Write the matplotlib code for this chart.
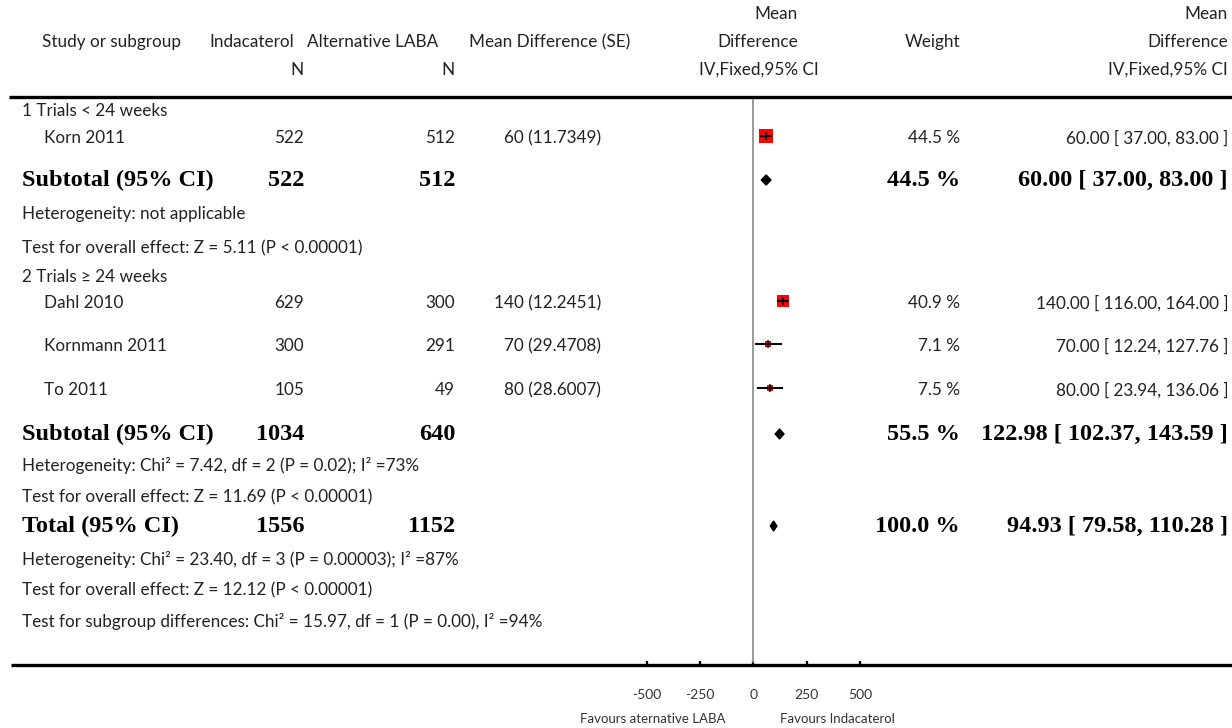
import matplotlib.pyplot as plt
from matplotlib.patches import Polygon

plt.rcParams['font.family'] = ['Lato', 'DejaVu Sans']

# ---- data ----
studies = ['Korn 2011', 'Dahl 2010', 'Kornmann 2011', 'To 2011']
n_ind = [522, 629, 300, 105]
n_alt = [512, 300, 291, 49]
md = [60, 140, 70, 80]
se = [11.7349, 12.2451, 29.4708, 28.6007]
weight = [44.5, 40.9, 7.1, 7.5]
ci_lo = [37.00, 116.00, 12.24, 23.94]
ci_hi = [83.00, 164.00, 127.76, 136.06]

groups = ['1 Trials < 24 weeks', '2 Trials \u2265 24 weeks']
sub_n_ind = [522, 1034]
sub_n_alt = [512, 640]
sub_weight = [44.5, 55.5]
sub_md = [60.00, 122.98]
sub_lo = [37.00, 102.37]
sub_hi = [83.00, 143.59]
sub_het = ['Heterogeneity: not applicable',
           'Heterogeneity: Chi\u00b2 = 7.42, df = 2 (P = 0.02); I\u00b2 =73%']
sub_test = ['Test for overall effect: Z = 5.11 (P < 0.00001)',
            'Test for overall effect: Z = 11.69 (P < 0.00001)']

tot_n_ind, tot_n_alt = 1556, 1152
tot_weight = 100.0
tot_md, tot_lo, tot_hi = 94.93, 79.58, 110.28
tot_lines = ['Heterogeneity: Chi\u00b2 = 23.40, df = 3 (P = 0.00003); I\u00b2 =87%',
             'Test for overall effect: Z = 12.12 (P < 0.00001)',
             'Test for subgroup differences: Chi\u00b2 = 15.97, df = 1 (P = 0.00), I\u00b2 =94%']

ticks = [-500, -250, 0, 250, 500]

# ---- layout (pixels) ----
W, H = 1232, 728
y_group = [111, 277]
y_study = [138, 303, 346, 390]
y_sub = [180, 434]
y_het = [214, 466]
y_test = [248, 497]
y_tot = 526
y_tot_lines = [559, 590, 622]
x_name, x_study = 22, 44
x_nind, x_nalt, x_se = 304, 455, 601
x_w, x_ci = 960, 1228

TXT = '#222222'
NORM = dict(fontsize=12.3, color=TXT, va='center')
BOLD = dict(fontsize=17.5, color='black', va='center', family='Liberation Serif', weight='bold')

fig = plt.figure(figsize=(W / 100, H / 100), dpi=100)
bg = fig.add_axes([0, 0, 1, 1])
bg.set_xlim(0, W)
bg.set_ylim(H, 0)
bg.axis('off')

# header
bg.text(112, 42, 'Study or subgroup', ha='center', **NORM)
bg.text(294, 42, 'Indacaterol', ha='right', **NORM)
bg.text(x_nind, 70, 'N', ha='right', **NORM)
bg.text(438, 42, 'Alternative LABA', ha='right', **NORM)
bg.text(x_nalt, 70, 'N', ha='right', **NORM)
bg.text(630, 42, 'Mean Difference (SE)', ha='right', **NORM)
bg.text(798, 14, 'Mean', ha='right', **NORM)
bg.text(798, 42, 'Difference', ha='right', **NORM)
bg.text(759, 70, 'IV,Fixed,95% CI', ha='center', **NORM)
bg.text(x_w, 42, 'Weight', ha='right', **NORM)
bg.text(x_ci, 14, 'Mean', ha='right', **NORM)
bg.text(x_ci, 42, 'Difference', ha='right', **NORM)
bg.text(x_ci, 70, 'IV,Fixed,95% CI', ha='right', **NORM)

bg.plot([9, W], [97, 97], color='black', lw=2.4, solid_capstyle='butt')
bg.plot([11, W], [665, 665], color='black', lw=2.4, solid_capstyle='butt')

# forest axes, x in data units
X0, X1 = 646.7, 860.0
ax = fig.add_axes([X0 / W, (H - 665) / H, (X1 - X0) / W, (665 - 97) / H])
ax.set_xlim(ticks[0], ticks[-1])
ax.set_ylim(665, 97)
ax.patch.set_alpha(0)
for s in ax.spines.values():
    s.set_visible(False)
ax.set_yticks([])
ax.set_xticks(ticks)
ax.set_xticklabels([str(t) for t in ticks])
ax.tick_params(axis='x', direction='in', length=3, width=1.6, color='black',
               labelsize=10, labelcolor='#333333', pad=17)
ax.axvline(0, color='#888888', lw=1.2, ymin=0.005, ymax=0.995)

def diamond(y, m, lo, hi):
    ax.add_patch(Polygon([(lo, y), (m, y - 5), (hi, y), (m, y + 5)],
                         closed=True, color='black', clip_on=False))

for g in range(2):
    bg.text(x_name, y_group[g], groups[g], ha='left', **NORM)
    bg.text(x_name, y_sub[g], 'Subtotal (95% CI)', ha='left', **BOLD)
    bg.text(x_nind, y_sub[g], str(sub_n_ind[g]), ha='right', **BOLD)
    bg.text(x_nalt, y_sub[g], str(sub_n_alt[g]), ha='right', **BOLD)
    bg.text(x_w, y_sub[g], '%.1f %%' % sub_weight[g], ha='right', **BOLD)
    bg.text(x_ci, y_sub[g], '%.2f [ %.2f, %.2f ]' % (sub_md[g], sub_lo[g], sub_hi[g]),
            ha='right', **BOLD)
    bg.text(x_name, y_het[g], sub_het[g], ha='left', **NORM)
    bg.text(x_name, y_test[g], sub_test[g], ha='left', **NORM)
    diamond(y_sub[g], sub_md[g], sub_lo[g], sub_hi[g])

for i, name in enumerate(studies):
    y = y_study[i]
    bg.text(x_study, y, name, ha='left', **NORM)
    bg.text(x_nind, y, str(n_ind[i]), ha='right', **NORM)
    bg.text(x_nalt, y, str(n_alt[i]), ha='right', **NORM)
    bg.text(x_se, y, '%g (%g)' % (md[i], se[i]), ha='right', **NORM)
    bg.text(x_w, y, '%.1f %%' % weight[i], ha='right', **NORM)
    bg.text(x_ci, y, '%.2f [ %.2f, %.2f ]' % (md[i], ci_lo[i], ci_hi[i]), ha='right', **NORM)
    side = (5 + 0.18 * weight[i]) * 0.72
    ax.scatter([md[i]], [y - 2], marker='s', s=side ** 2, color='red', lw=0, zorder=3)
    ax.plot([ci_lo[i], ci_hi[i]], [y - 2, y - 2], color='black', lw=1.5, zorder=4)
    ax.plot([md[i], md[i]], [y - 5, y + 1], color='black', lw=1.2, zorder=4)

bg.text(x_name, y_tot, 'Total (95% CI)', ha='left', **BOLD)
bg.text(x_nind, y_tot, str(tot_n_ind), ha='right', **BOLD)
bg.text(x_nalt, y_tot, str(tot_n_alt), ha='right', **BOLD)
bg.text(x_w, y_tot, '%.1f %%' % tot_weight, ha='right', **BOLD)
bg.text(x_ci, y_tot, '%.2f [ %.2f, %.2f ]' % (tot_md, tot_lo, tot_hi), ha='right', **BOLD)
diamond(y_tot, tot_md, tot_lo, tot_hi)
for y, t in zip(y_tot_lines, tot_lines):
    bg.text(x_name, y, t, ha='left', **NORM)

bg.text(726, 719, 'Favours aternative LABA', ha='right', fontsize=9.5, color='#333333', va='center')
bg.text(780, 719, 'Favours Indacaterol', ha='left', fontsize=9.5, color='#333333', va='center')

fig.savefig('out.png', dpi=100)
